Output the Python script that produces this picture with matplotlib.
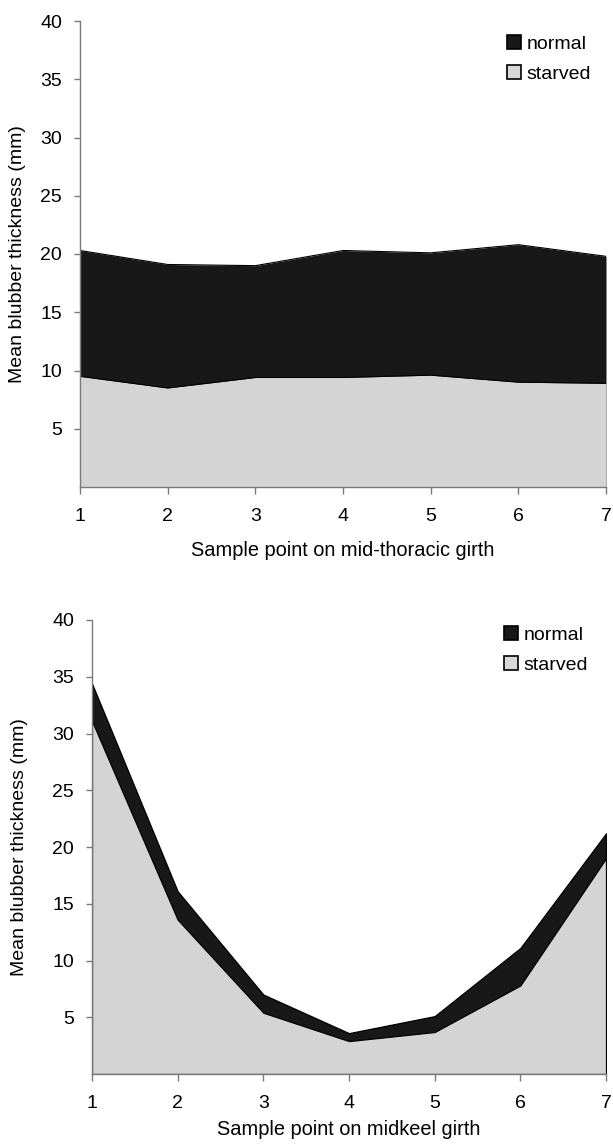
import matplotlib

matplotlib.use("Agg")
import matplotlib.pyplot as plt
from matplotlib.patches import Patch

plt.rcParams["font.family"] = ["Liberation Sans", "DejaVu Sans"]

# sample points on the girth
points = [1, 2, 3, 4, 5, 6, 7]

# mid-thoracic girth (mm)
thoracic_normal = [20.3, 19.1, 19.0, 20.3, 20.1, 20.8, 19.8]
thoracic_starved = [9.5, 8.5, 9.4, 9.4, 9.6, 9.0, 8.9]

# midkeel girth (mm)
midkeel_normal = [34.4, 16.1, 7.0, 3.6, 5.1, 11.1, 21.2]
midkeel_starved = [31.1, 13.6, 5.4, 2.9, 3.7, 7.8, 19.0]

y_ticks = [5, 10, 15, 20, 25, 30, 35, 40]

NORMAL_COLOR = "#181818"
STARVED_COLOR = "#d4d4d4"
AXIS_COLOR = "#7a7a7a"
W, H = 613, 1145


def draw_panel(ax, normal, starved, xlabel, xlabelpad, ylabelpad, legend_xy, full_edge):
    ew = 0.9 if full_edge else 0
    ax.fill_between(points, 0, normal, facecolor=NORMAL_COLOR,
                    edgecolor="#000000", linewidth=ew)
    ax.fill_between(points, 0, starved, facecolor=STARVED_COLOR,
                    edgecolor="#000000", linewidth=ew)
    if not full_edge:
        ax.plot(points, normal, color="#000000", linewidth=0.8)
        ax.plot(points, starved, color="#000000", linewidth=0.8)
    ax.set_xlim(1, 7)
    ax.set_ylim(0, 40)
    ax.set_xticks(points)
    ax.set_yticks(y_ticks)
    for side in ("top", "right"):
        ax.spines[side].set_visible(False)
    for side in ("left", "bottom"):
        ax.spines[side].set_color(AXIS_COLOR)
        ax.spines[side].set_linewidth(1.0)
    ax.tick_params(direction="out", length=4, width=1.0, color=AXIS_COLOR,
                   labelsize=14, pad=9)
    ax.tick_params(axis="x", length=5, pad=10)
    ax.set_xlabel(xlabel, fontsize=14.4, labelpad=xlabelpad)
    ax.set_ylabel("Mean blubber thickness (mm)", fontsize=14, labelpad=ylabelpad)
    handles = [Patch(facecolor=NORMAL_COLOR, edgecolor="#000000", linewidth=1.2),
               Patch(facecolor="#d8d8d8", edgecolor="#000000", linewidth=1.2)]
    ax.legend(handles, ["normal", "starved"], loc="upper left",
              bbox_to_anchor=legend_xy, bbox_transform=ax.figure.transFigure,
              frameon=False, fontsize=14, handlelength=0.72, handleheight=0.72,
              handletextpad=0.3, labelspacing=0.62, borderpad=0,
              borderaxespad=0)


fig = plt.figure(figsize=(W / 100, H / 100), dpi=100)
ax1 = fig.add_axes([80 / W, 1 - 487 / H, 526 / W, 466 / H])
ax2 = fig.add_axes([92 / W, 1 - 1074 / H, 514 / W, 454 / H])

draw_panel(ax1, thoracic_normal, thoracic_starved,
           "Sample point on mid-thoracic girth", 12, 10,
           (507 / W, 1 - 35 / H), full_edge=False)
draw_panel(ax2, midkeel_normal, midkeel_starved,
           "Sample point on midkeel girth", 6, 17,
           (504 / W, 1 - 626 / H), full_edge=True)

fig.savefig("out.png", dpi=100)
